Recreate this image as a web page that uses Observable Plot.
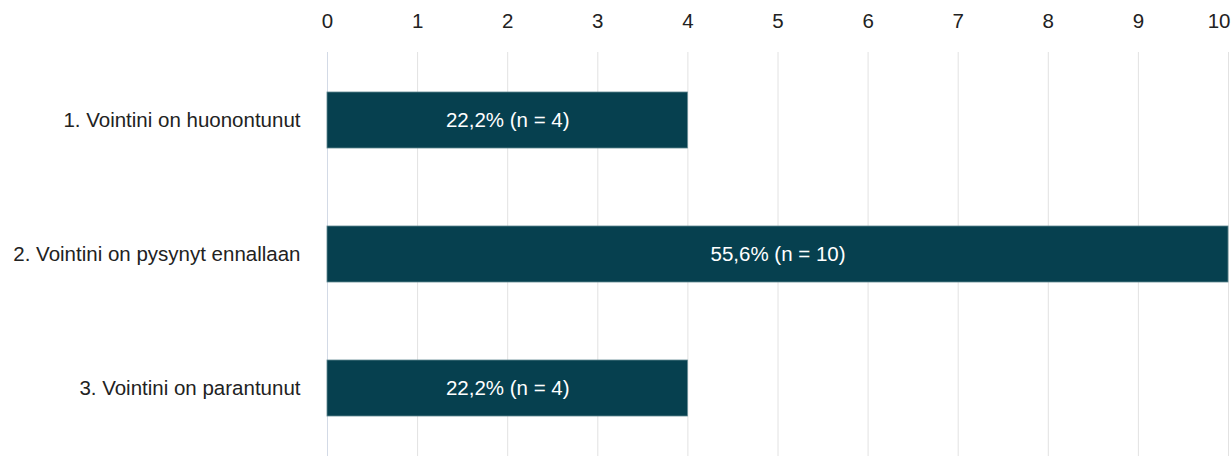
<!DOCTYPE html>
<html>
<head>
<meta charset="utf-8">
<script src="https://cdn.jsdelivr.net/npm/d3@7"></script>
<script src="https://cdn.jsdelivr.net/npm/@observablehq/plot@0.6"></script>
<style>
  html, body { margin: 0; padding: 0; background: #fff; }
  #chart svg { display: block; }
</style>
</head>
<body>
<div id="chart"></div>
<script>
const categories = ["1. Vointini on huonontunut", "2. Vointini on pysynyt ennallaan", "3. Vointini on parantunut"];
const counts = [4, 10, 4];
const labels = ["22,2% (n = 4)", "55,6% (n = 10)", "22,2% (n = 4)"];
const xTicks = [0, 1, 2, 3, 4, 5, 6, 7, 8, 9, 10];

const data = categories.map((c, i) => ({category: c, n: counts[i], label: labels[i]}));
const FS = 20.5;

const chart = Plot.plot({
  width: 1231,
  height: 456,
  marginLeft: 327,
  marginRight: 3,
  marginTop: 52,
  marginBottom: 0,
  style: {fontFamily: "'Liberation Sans', Arial, sans-serif", fontSize: FS + "px", color: "#222"},
  x: {domain: [0, 10], label: null},
  y: {domain: categories, label: null, padding: 0},
  marks: [
    Plot.gridX(xTicks.slice(1), {stroke: "#e2e2e2", strokeOpacity: 1}),
    Plot.ruleX([0], {stroke: "#d3dae6"}),
    Plot.barX(data, {x: "n", y: "category", fill: "#06404f", stroke: "#5f8790", strokeWidth: 0.8, insetTop: 39, insetBottom: 39}),
    Plot.text(data, {x: d => d.n / 2, y: "category", text: "label", fill: "white", fontSize: FS}),
    Plot.axisX(xTicks.slice(0, -1), {anchor: "top", tickSize: 0, tickPadding: 25, label: null, fontSize: FS}),
    Plot.axisX(xTicks.slice(-1), {anchor: "top", tickSize: 0, tickPadding: 25, label: null, fontSize: FS, textAnchor: "end", dx: 2}),
    Plot.axisY({tickSize: 0, tickPadding: 27, label: null, fontSize: FS})
  ]
});
document.getElementById("chart").appendChild(chart);
</script>
</body>
</html>
